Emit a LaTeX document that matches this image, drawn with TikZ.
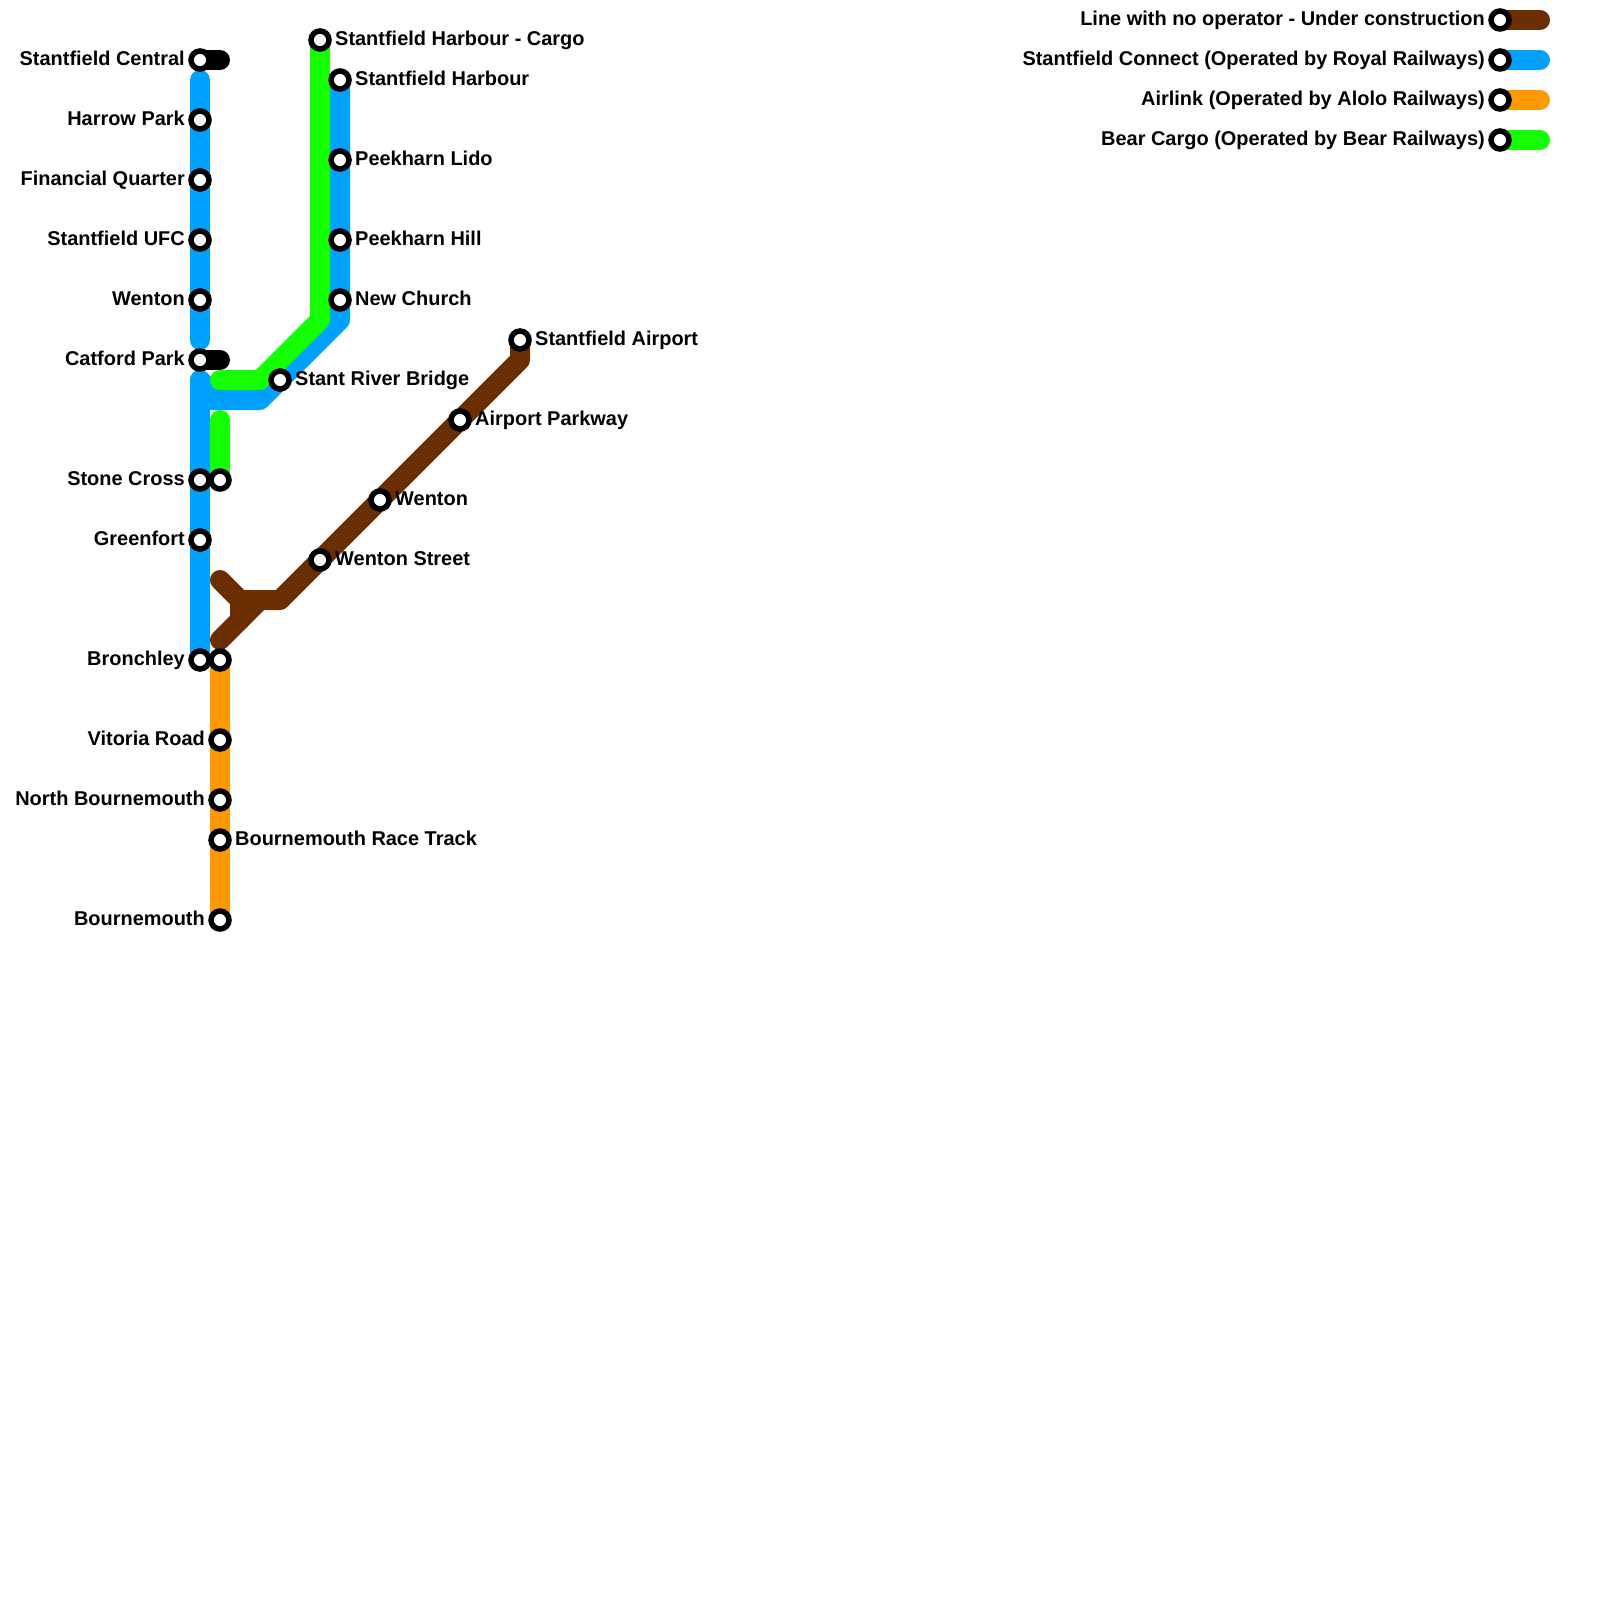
\documentclass[tikz,border=0pt]{standalone}
\usepackage{fontspec}
\setmainfont{Liberation Sans}
\usetikzlibrary{calc,backgrounds}
\definecolor{cbrown}{HTML}{6B2E00}
\definecolor{cblue}{HTML}{00A1FF}
\definecolor{corange}{HTML}{FF9900}
\definecolor{cgreen}{HTML}{14FF00}
\tikzset{
  stn/.style={circle,draw=black,fill=white,line width=5.5pt,minimum size=18pt,inner sep=0pt},
  lbl/.style={inner sep=0pt,font=\fontsize{19.95}{24}\selectfont\bfseries,text=black},
  lblr/.style={lbl,anchor=base west},
  lbll/.style={lbl,anchor=base east},
  rail/.style={line width=20pt,line cap=round,line join=round},
}
\newcommand{\stnR}[4]{\node[stn] (#1) at (#2,#3) {};\node[lblr] (#1t) at ($(#1.center)+(15,5.2)$) {#4};}
\newcommand{\stnL}[4]{\node[stn] (#1) at (#2,#3) {};\node[lbll] (#1t) at ($(#1.center)+(-15,5.2)$) {#4};}
\begin{document}
\begin{tikzpicture}[x=1pt,y=-1pt]
\useasboundingbox (0,0) rectangle (1600,1600);
% left trunk
\stnL{central}{200}{60}{Stantfield Central}
\stnL{harrow}{200}{120}{Harrow Park}
\stnL{fin}{200}{180}{Financial Quarter}
\stnL{ufc}{200}{240}{Stantfield UFC}
\stnL{wentonA}{200}{300}{Wenton}
\stnL{catford}{200}{360}{Catford Park}
\stnL{stone}{200}{480}{Stone Cross}
\stnL{green}{200}{540}{Greenfort}
\stnL{bronch}{200}{660}{Bronchley}
\node[stn] (stoneB) at (220,480) {};
\node[stn] (bronchB) at (220,660) {};
\stnL{vitoria}{220}{740}{Vitoria Road}
\stnL{northb}{220}{800}{North Bournemouth}
\stnR{race}{220}{840}{Bournemouth Race Track}
\stnL{bourne}{220}{920}{Bournemouth}
% harbour
\stnR{cargo}{320}{40}{Stantfield Harbour - Cargo}
\stnR{harbour}{340}{80}{Stantfield Harbour}
\stnR{lido}{340}{160}{Peekharn Lido}
\stnR{hill}{340}{240}{Peekharn Hill}
\stnR{church}{340}{300}{New Church}
\stnR{bridge}{280}{380}{Stant River Bridge}
% airport
\stnR{airport}{520}{340}{Stantfield Airport}
\stnR{parkway}{460}{420}{Airport Parkway}
\stnR{wentonB}{380}{500}{Wenton}
\stnR{wstreet}{320}{560}{Wenton Street}
% legend
\stnL{legA}{1500}{20}{Line with no operator - Under construction}
\stnL{legB}{1500}{60}{Stantfield Connect (Operated by Royal Railways)}
\stnL{legC}{1500}{100}{Airlink (Operated by Alolo Railways)}
\stnL{legD}{1500}{140}{Bear Cargo (Operated by Bear Railways)}
% free ends and bends
\coordinate (k1) at (220,60);
\coordinate (k2) at (220,360);
\coordinate (b1) at (200,80);
\coordinate (b2) at (200,340);
\coordinate (b3) at (200,380);
\coordinate (b0) at (200,400);
\coordinate (b4) at (220,400);
\coordinate (b5) at (260,400);
\coordinate (b6) at (340,320);
\coordinate (g1) at (320,320);
\coordinate (g2) at (260,380);
\coordinate (g3) at (220,380);
\coordinate (g4) at (220,420);
\coordinate (r1) at (520,360);
\coordinate (r2) at (280,600);
\coordinate (r3) at (260,600);
\coordinate (r4) at (220,640);
\coordinate (r5) at (240,600);
\coordinate (r6) at (220,580);
\coordinate (r7) at (240,620);
\coordinate (eA) at (1540,20);
\coordinate (eB) at (1540,60);
\coordinate (eC) at (1540,100);
\coordinate (eD) at (1540,140);
\begin{pgfonlayer}{background}
\fill[white] (0,0) rectangle (1600,1600);
\draw[rail,black] (central.center) -- (k1);
\draw[rail,black] (catford.center) -- (k2);
\draw[rail,cbrown] (airport.center) -- (r1) -- (r2) -- (r5) -- (r6);
\draw[rail,cbrown] (r3) -- (r4);
\draw[rail,cbrown] (r5) -- (r7);
\draw[rail,cblue] (b1) -- (b2);
\draw[rail,cblue] (b3) -- (bronch.center);
\draw[rail,cblue] (b3) -- (b4);
\draw[rail,cblue] (b0) -- (b5) -- (b6) -- (harbour.center);
\draw[rail,corange] (bronchB.center) -- (bourne.center);
\draw[rail,cgreen] (cargo.center) -- (g1) -- (g2) -- (g3);
\draw[rail,cgreen] (g4) -- (stoneB.center);
\draw[rail,cbrown] (legA.center) -- (eA);
\draw[rail,cblue] (legB.center) -- (eB);
\draw[rail,corange] (legC.center) -- (eC);
\draw[rail,cgreen] (legD.center) -- (eD);
\end{pgfonlayer}
\end{tikzpicture}
\end{document}
